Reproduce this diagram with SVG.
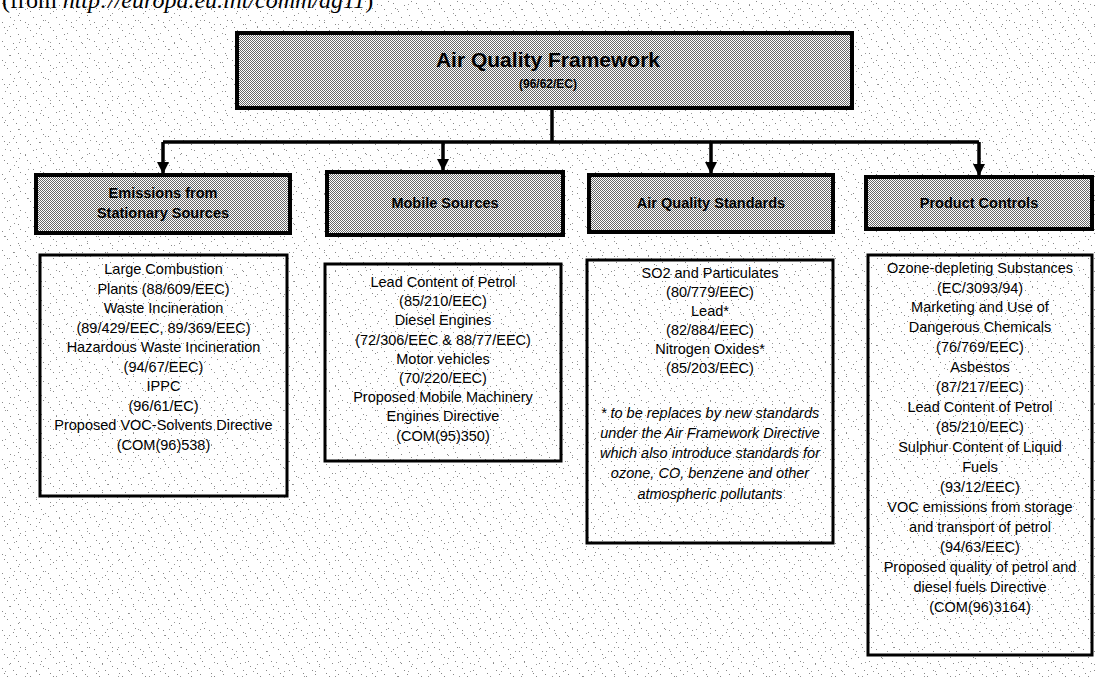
<svg xmlns="http://www.w3.org/2000/svg" width="1095" height="677" viewBox="0 0 1095 677">
<style>
.t{font-family:"Liberation Sans",Arial,sans-serif;font-size:14.5px;fill:#000;text-anchor:middle}
.i{font-style:italic}
.h{font-family:"Liberation Sans",Arial,sans-serif;font-size:14.5px;font-weight:bold;fill:#000;text-anchor:middle}
.hb{fill:url(#chk);stroke:#000;stroke-width:4}
.cb{fill:none;stroke:#000;stroke-width:3}
.ln{fill:none;stroke:#000;stroke-width:3.5}
</style>
<defs>
<pattern id="chk" patternUnits="userSpaceOnUse" x="0" y="0" width="2" height="2">
<rect width="2" height="2" fill="#fff"/>
<rect x="0" y="0" width="1" height="1" fill="#666"/>
<rect x="1" y="1" width="1" height="1" fill="#666"/>
</pattern>
<pattern id="nz1" patternUnits="userSpaceOnUse" x="0" y="0" width="23" height="19">
<rect x="2" y="3" width="1" height="1" fill="#888"/>
<rect x="7" y="11" width="1" height="1" fill="#888"/>
<rect x="13" y="5" width="1" height="1" fill="#888"/>
<rect x="18" y="15" width="1" height="1" fill="#888"/>
<rect x="20" y="1" width="1" height="1" fill="#888"/>
<rect x="10" y="17" width="1" height="1" fill="#888"/>
<rect x="4" y="8" width="1" height="1" fill="#888"/>
<rect x="16" y="9" width="1" height="1" fill="#888"/>
</pattern>
<pattern id="nz2" patternUnits="userSpaceOnUse" x="0" y="0" width="31" height="29">
<rect x="5" y="4" width="1" height="1" fill="#999"/>
<rect x="14" y="20" width="1" height="1" fill="#999"/>
<rect x="25" y="9" width="1" height="1" fill="#999"/>
<rect x="9" y="26" width="1" height="1" fill="#999"/>
<rect x="28" y="24" width="1" height="1" fill="#999"/>
<rect x="19" y="13" width="1" height="1" fill="#999"/>
</pattern>
<marker id="ah" markerUnits="userSpaceOnUse" markerWidth="12" markerHeight="12" refX="12" refY="6" orient="auto">
<path d="M0,0 L12,6 L0,12 z" fill="#000"/>
</marker>
</defs>
<rect width="1095" height="677" fill="#fff"/>
<rect width="1095" height="677" fill="url(#nz1)"/>
<rect width="1095" height="677" fill="url(#nz2)"/>
<text x="2" y="8" font-family="'Liberation Serif','Times New Roman',serif" font-size="24" fill="#000">(from <tspan font-style="italic">http://europa.eu.int/comm/dg11</tspan>)</text>

<g id="connectors">
<path class="ln" d="M552,108 V142"/>
<path class="ln" d="M163,142 H979"/>
<path class="ln" d="M163,142 V174" marker-end="url(#ah)"/>
<path class="ln" d="M443,142 V171" marker-end="url(#ah)"/>
<path class="ln" d="M711,142 V174" marker-end="url(#ah)"/>
<path class="ln" d="M979,142 V176" marker-end="url(#ah)"/>
</g>

<g id="air-quality-framework">
<rect class="hb" x="237" y="33" width="615" height="75" stroke-width="3.5"/>
<text x="548" y="67" font-family="'Liberation Sans',Arial,sans-serif" font-size="21" font-weight="bold" text-anchor="middle">Air Quality Framework</text>
<text x="548" y="88" font-family="'Liberation Sans',Arial,sans-serif" font-size="12" font-weight="bold" text-anchor="middle">(96/62/EC)</text>
</g>

<g id="h-stationary">
<rect class="hb" x="36" y="175" width="254" height="58"/>
<text class="h" x="163" y="198">Emissions from</text>
<text class="h" x="163" y="218">Stationary Sources</text>
</g>
<g id="h-mobile">
<rect class="hb" x="327" y="172" width="236" height="63"/>
<text class="h" x="445" y="208">Mobile Sources</text>
</g>
<g id="h-standards">
<rect class="hb" x="589" y="175" width="244" height="57"/>
<text class="h" x="711" y="208">Air Quality Standards</text>
</g>
<g id="h-product">
<rect class="hb" x="866" y="177" width="226" height="52"/>
<text class="h" x="979" y="208">Product Controls</text>
</g>

<g id="c-stationary">
<rect class="cb" x="40" y="255" width="247" height="241"/>
<text class="t" x="163.5" y="274">Large Combustion</text>
<text class="t" x="163.5" y="293.5">Plants (88/609/EEC)</text>
<text class="t" x="163.5" y="313">Waste Incineration</text>
<text class="t" x="163.5" y="332.5">(89/429/EEC, 89/369/EEC)</text>
<text class="t" x="163.5" y="352">Hazardous Waste Incineration</text>
<text class="t" x="163.5" y="371.5">(94/67/EEC)</text>
<text class="t" x="163.5" y="391">IPPC</text>
<text class="t" x="163.5" y="410.5">(96/61/EC)</text>
<text class="t" x="163.5" y="430">Proposed VOC-Solvents Directive</text>
<text class="t" x="163.5" y="449.5">(COM(96)538)</text>
</g>

<g id="c-mobile">
<rect class="cb" x="325" y="264" width="236" height="197"/>
<text class="t" x="443" y="287">Lead Content of Petrol</text>
<text class="t" x="443" y="306.2">(85/210/EEC)</text>
<text class="t" x="443" y="325.4">Diesel Engines</text>
<text class="t" x="443" y="344.6">(72/306/EEC &amp; 88/77/EEC)</text>
<text class="t" x="443" y="363.8">Motor vehicles</text>
<text class="t" x="443" y="383">(70/220/EEC)</text>
<text class="t" x="443" y="402.2">Proposed Mobile Machinery</text>
<text class="t" x="443" y="421.4">Engines Directive</text>
<text class="t" x="443" y="440.6">(COM(95)350)</text>
</g>

<g id="c-standards">
<rect class="cb" x="587" y="260" width="246" height="283"/>
<text class="t" x="710" y="278">SO2 and Particulates</text>
<text class="t" x="710" y="297">(80/779/EEC)</text>
<text class="t" x="710" y="316">Lead*</text>
<text class="t" x="710" y="335">(82/884/EEC)</text>
<text class="t" x="710" y="354">Nitrogen Oxides*</text>
<text class="t" x="710" y="373">(85/203/EEC)</text>
<text class="t i" x="710" y="418">* to be replaces by new standards</text>
<text class="t i" x="710" y="438">under the Air Framework Directive</text>
<text class="t i" x="710" y="458">which also introduce standards for</text>
<text class="t i" x="710" y="478">ozone, CO, benzene and other</text>
<text class="t i" x="710" y="499">atmospheric pollutants</text>
</g>

<g id="c-product">
<rect class="cb" x="868" y="255" width="224" height="400"/>
<text class="t" x="980" y="272.5">Ozone-depleting Substances</text>
<text class="t" x="980" y="292.5">(EC/3093/94)</text>
<text class="t" x="980" y="312.4">Marketing and Use of</text>
<text class="t" x="980" y="332.4">Dangerous Chemicals</text>
<text class="t" x="980" y="352.3">(76/769/EEC)</text>
<text class="t" x="980" y="372.3">Asbestos</text>
<text class="t" x="980" y="392.2">(87/217/EEC)</text>
<text class="t" x="980" y="412.2">Lead Content of Petrol</text>
<text class="t" x="980" y="432.1">(85/210/EEC)</text>
<text class="t" x="980" y="452.1">Sulphur Content of Liquid</text>
<text class="t" x="980" y="472">Fuels</text>
<text class="t" x="980" y="492">(93/12/EEC)</text>
<text class="t" x="980" y="511.9">VOC emissions from storage</text>
<text class="t" x="980" y="531.9">and transport of petrol</text>
<text class="t" x="980" y="551.8">(94/63/EEC)</text>
<text class="t" x="980" y="571.8">Proposed quality of petrol and</text>
<text class="t" x="980" y="591.7">diesel fuels Directive</text>
<text class="t" x="980" y="611.7">(COM(96)3164)</text>
</g>
</svg>
